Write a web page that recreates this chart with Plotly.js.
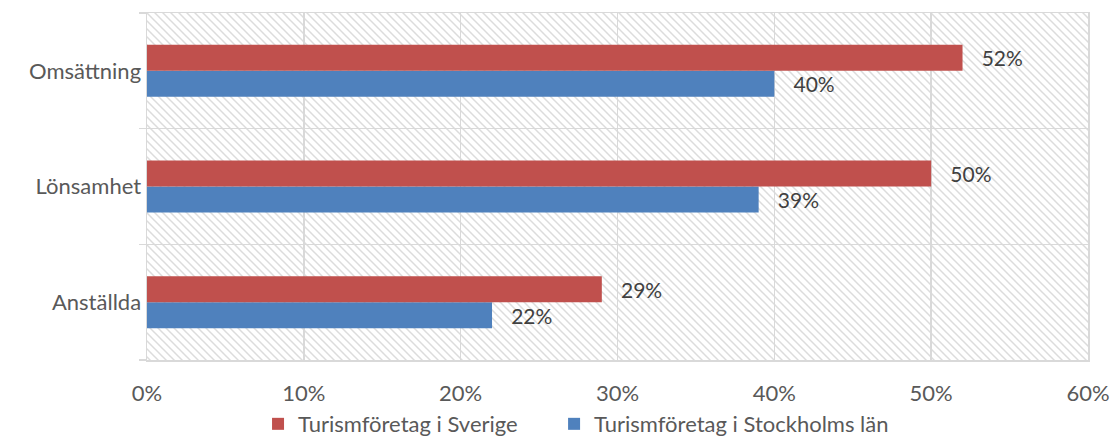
<!DOCTYPE html>
<html>
<head>
<meta charset="utf-8">
<script src="https://cdn.plot.ly/plotly-3.0.1.min.js"></script>
<style>html,body{margin:0;padding:0;background:#fff;}#chart{width:1112px;height:437px;}</style>
</head>
<body>
<div id="chart"></div>
<script>
var categories = ["Anställda", "Lönsamhet", "Omsättning"];
var sverige = [0.29, 0.50, 0.52];
var stockholm = [0.22, 0.39, 0.40];
var seriesNames = ["Turismföretag i Sverige", "Turismföretag i Stockholms län"];
var xTickVals = [0, 0.1, 0.2, 0.3, 0.4, 0.5, 0.6];

var W = 1112, H = 437;
var M = {l: 147, r: 24, t: 13, b: 77, autoexpand: false};
var pw = W - M.l - M.r, ph = H - M.t - M.b;

var svg = '<svg xmlns="http://www.w3.org/2000/svg" width="' + pw + '" height="' + ph + '">' +
  '<defs><pattern id="p" width="8" height="8" patternUnits="userSpaceOnUse">' +
  '<path d="M-2,-2 L10,10 M-2,6 L2,10 M6,-2 L10,2" stroke="#dcdcdc" stroke-width="1.5" fill="none"/>' +
  '</pattern></defs><rect width="100%" height="100%" fill="#fff"/><rect width="100%" height="100%" fill="url(#p)"/></svg>';
var bgSrc = 'data:image/svg+xml;charset=utf-8,' + encodeURIComponent(svg);

function pct(v) { return '\u00a0\u00a0\u00a0' + Math.round(v * 100) + '%'; }

var font = "Lato, sans-serif";
var FS = 22;
var traces = [
  {
    type: 'bar', orientation: 'h', name: seriesNames[1], legend: 'legend2',
    y: categories, x: stockholm,
    marker: {color: '#4F81BD'},
    text: stockholm.map(pct), textposition: 'outside', cliponaxis: false,
    textfont: {family: font, size: 21, color: '#404040'},
    hoverinfo: 'none'
  },
  {
    type: 'bar', orientation: 'h', name: seriesNames[0], legend: 'legend',
    y: categories, x: sverige,
    marker: {color: '#C0504D'},
    text: sverige.map(pct), textposition: 'outside', cliponaxis: false,
    textfont: {family: font, size: 21, color: '#404040'},
    hoverinfo: 'none'
  }
];

var legendFont = {family: font, size: FS, color: '#595959'};
var layout = {
  width: W, height: H,
  margin: M,
  paper_bgcolor: '#fff',
  plot_bgcolor: 'rgba(0,0,0,0)',
  barmode: 'group',
  bargap: 0.55,
  bargroupgap: 0,
  font: {family: font, size: FS, color: '#595959'},
  showlegend: true,
  legend: {
    orientation: 'h',
    x: 0.118, xanchor: 'left', y: -0.124, yanchor: 'top',
    font: legendFont, itemwidth: 30
  },
  legend2: {
    orientation: 'h',
    x: 0.4326, xanchor: 'left', y: -0.124, yanchor: 'top',
    font: legendFont, itemwidth: 30
  },
  xaxis: {
    range: [0, 0.6], tickvals: xTickVals, tickformat: '.0%',
    showgrid: true, gridcolor: '#D9D9D9', gridwidth: 1.5,
    zeroline: false, showline: true, linecolor: '#D9D9D9', linewidth: 1.5, mirror: true,
    ticks: '', ticklabelstandoff: 13,
    tickfont: {family: font, size: FS, color: '#595959'},
    fixedrange: true
  },
  yaxis: {
    type: 'category', categoryorder: 'array', categoryarray: categories,
    tickson: 'boundaries', showgrid: true, gridcolor: '#D9D9D9', gridwidth: 1.5,
    ticks: 'outside', ticklen: 7, tickcolor: '#D9D9D9', tickwidth: 1.5,
    showline: true, linecolor: '#D9D9D9', linewidth: 1.5, mirror: true,
    zeroline: false,
    tickfont: {family: font, size: FS, color: '#595959'},
    fixedrange: true
  },
  images: [{
    source: bgSrc, xref: 'paper', yref: 'paper', x: 0, y: 1,
    sizex: 1, sizey: 1, xanchor: 'left', yanchor: 'top',
    sizing: 'stretch', layer: 'below'
  }]
};

Plotly.newPlot('chart', traces, layout, {displayModeBar: false, staticPlot: true});
</script>
</body>
</html>
